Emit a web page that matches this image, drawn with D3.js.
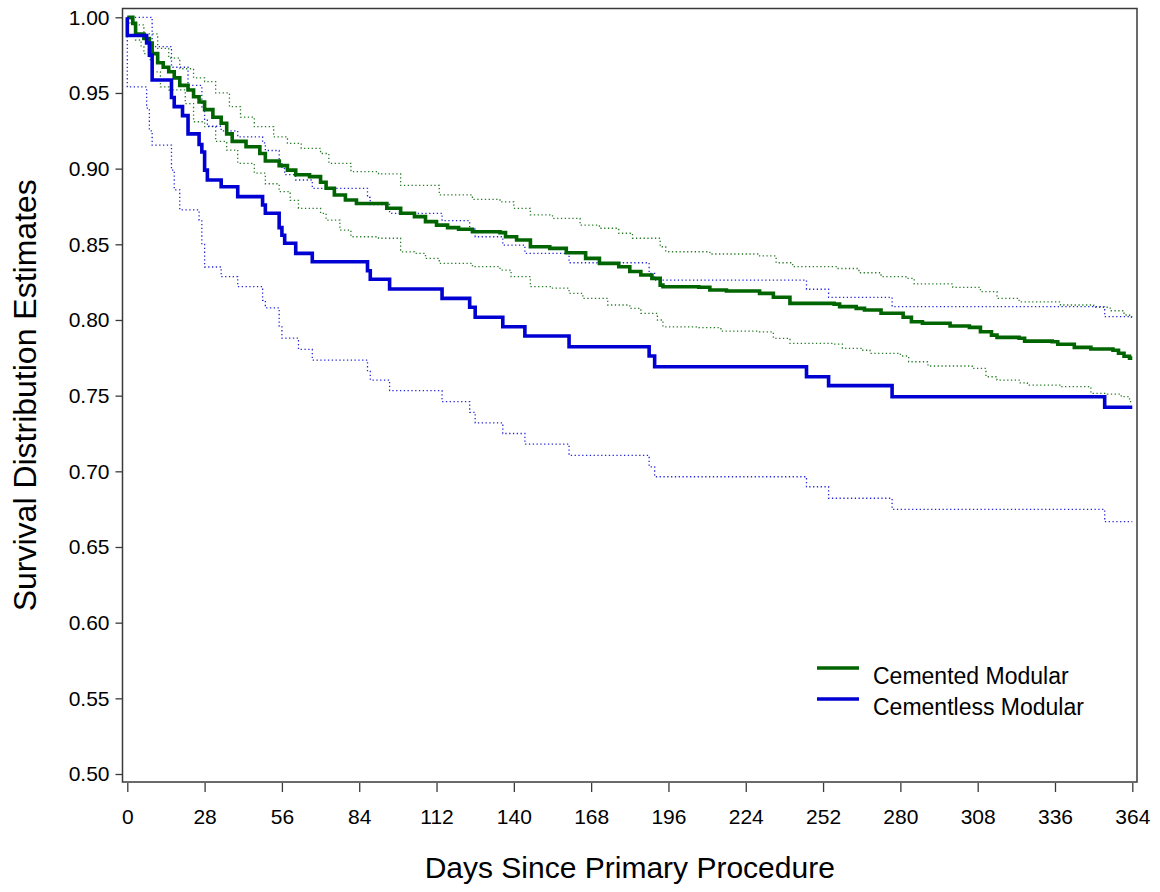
<!DOCTYPE html>
<html>
<head>
<meta charset="utf-8">
<script src="https://cdn.jsdelivr.net/npm/d3@7"></script>
<style>
  body { margin: 0; background: #fff; }
  text { font-family: "Liberation Sans", Arial, Helvetica, sans-serif; }
</style>
</head>
<body>
<div id="container"></div>
<script>
/* DATA: [day, survival] steps */
const lastDay = 364;
const xTicks = [0, 28, 56, 84, 112, 140, 168, 196, 224, 252, 280, 308, 336, 364];
const yTicks = [0.50, 0.55, 0.60, 0.65, 0.70, 0.75, 0.80, 0.85, 0.90, 0.95, 1.00];
const groups = ["Cemented Modular", "Cementless Modular"];

const cementedSurv = [[0,1],[2,0.996],[3,0.989],[6,0.986],[8,0.983],[9,0.976],[11,0.970],[13,0.967],[15,0.964],[17,0.960],
  [19,0.955],[22,0.952],[24,0.9475],[26,0.944],[28,0.939],[31,0.934],[34,0.930],[36,0.923],[38,0.918],[43,0.9145],
  [48,0.910],[50,0.905],[55,0.902],[58,0.899],[61,0.896],[66,0.8947],[70,0.891],[72,0.887],[75,0.8826],[79,0.8793],
  [83,0.877],[94,0.8738],[99,0.8705],[104,0.8683],[108,0.865],[112,0.8627],[116,0.861],[120,0.860],[125,0.8583],
  [135,0.8577],[137,0.855],[141,0.8528],[146,0.8484],[153,0.8473],[159,0.8444],[166,0.8407],[171,0.8374],[178,0.8352],
  [182,0.832],[186,0.8297],[190,0.8275],[193,0.823],[194,0.822],[207,0.8216],[211,0.8198],[217,0.8191],[229,0.8176],
  [234,0.815],[240,0.811],[256,0.8105],[258,0.8088],[264,0.8077],[267,0.8066],[273,0.8044],[281,0.8018],[284,0.7988],
  [288,0.7978],[298,0.796],[305,0.7951],[309,0.7922],[313,0.790],[315,0.7885],[323,0.7879],[325,0.786],[335,0.7856],
  [337,0.784],[343,0.7819],[349,0.7808],[357,0.780],[359,0.778],[361,0.776],[363,0.7748]];

const cementedUpper = [[0,1],[2,0.995],[6,0.989],[11,0.9795],[15,0.973],[19,0.966],[24,0.960],[28,0.9575],[32,0.950],
  [37,0.941],[41,0.934],[46,0.9277],[53,0.921],[58,0.9167],[63,0.9134],[70,0.910],[73,0.9035],[81,0.898],[91,0.8965],
  [99,0.889],[113,0.8826],[125,0.8797],[135,0.878],[140,0.8738],[146,0.8694],[154,0.8672],[164,0.8627],[171,0.8606],
  [178,0.8573],[183,0.854],[193,0.8484],[195,0.8451],[211,0.8436],[229,0.8423],[235,0.8378],[241,0.8352],[257,0.834],
  [265,0.8312],[273,0.8286],[282,0.8275],[285,0.8238],[299,0.8216],[309,0.8187],[315,0.8143],[323,0.812],[338,0.8099],
  [350,0.8084],[356,0.8061],[361,0.8033],[363,0.8018]];

const cementedLower = [[0,1],[1,0.996],[3,0.985],[5,0.9806],[6,0.976],[8,0.972],[9,0.964],[12,0.954],[15,0.952],[21,0.943],
  [24,0.931],[28,0.9277],[32,0.918],[36,0.9123],[40,0.9035],[46,0.897],[50,0.890],[55,0.8848],[59,0.879],[62,0.8738],
  [70,0.8705],[72,0.866],[77,0.8594],[81,0.855],[91,0.854],[99,0.845],[104,0.844],[108,0.8407],[113,0.8374],[125,0.8352],
  [135,0.833],[139,0.8286],[146,0.822],[154,0.821],[160,0.8176],[165,0.8143],[174,0.8099],[182,0.8077],[186,0.8044],
  [192,0.800],[194,0.7955],[207,0.7949],[215,0.7927],[229,0.7922],[234,0.7879],[240,0.7846],[256,0.7841],[259,0.7813],
  [266,0.780],[269,0.778],[280,0.7762],[283,0.7724],[290,0.7696],[306,0.768],[311,0.7625],[315,0.7603],[323,0.7585],
  [326,0.757],[338,0.7559],[349,0.7515],[355,0.751],[360,0.7493],[363,0.746]];

const cementlessSurv = [[0,1],[0,0.988],[7,0.983],[8,0.975],[9,0.9586],[16,0.947],[17,0.941],[20,0.935],[22,0.923],
  [26,0.916],[27,0.911],[28,0.899],[29,0.8925],[34,0.888],[40,0.8815],[49,0.876],[50,0.8705],[55,0.861],[56,0.856],
  [57,0.8507],[61,0.844],[67,0.8385],[87,0.8325],[88,0.8269],[95,0.8205],[114,0.8143],[124,0.8084],[126,0.8018],
  [136,0.7955],[144,0.7894],[160,0.7823],[189,0.7762],[191,0.7691],[246,0.7625],[254,0.7566],[277,0.7493],[354,0.7423]];

const cementlessUpper = [[0,1],[9,0.9806],[16,0.967],[22,0.955],[27,0.940],[28,0.932],[29,0.928],[34,0.925],[40,0.921],
  [49,0.917],[50,0.912],[55,0.905],[56,0.900],[57,0.896],[61,0.8925],[67,0.887],[87,0.881],[88,0.8763],[95,0.8705],
  [114,0.8656],[124,0.860],[126,0.855],[136,0.8495],[144,0.844],[160,0.8378],[189,0.8308],[191,0.8264],[246,0.8203],
  [254,0.815],[277,0.8088],[354,0.8022]];

const cementlessLower = [[0,1],[0,0.954],[7,0.940],[8,0.925],[9,0.9156],[16,0.899],[17,0.886],[19,0.8727],[26,0.866],
  [27,0.850],[28,0.835],[34,0.8286],[40,0.822],[49,0.813],[50,0.808],[55,0.796],[56,0.788],[62,0.7806],[67,0.7735],
  [87,0.766],[88,0.7603],[95,0.7533],[114,0.746],[124,0.739],[126,0.732],[136,0.725],[144,0.718],[160,0.7105],
  [189,0.703],[191,0.6964],[246,0.6898],[254,0.6822],[277,0.6749],[354,0.6667]];

/* CONSTANTS */
const width = 1160, height = 892;
const frame = { left: 122.5, top: 8.5, right: 1137, bottom: 782 };
const green = "#006400", blue = "#0000d2";

const svg = d3.select("#container")
  .append("svg")
  .attr("width", width)
  .attr("height", height);

const x = d3.scaleLinear().domain([0, lastDay]).range([127.3, 1132.3]);
const y = d3.scaleLinear().domain([0.5, 1]).range([774, 17.3]);

// step line, carried on to the last day
const line = d3.line()
  .x(d => x(d[0]))
  .y(d => y(d[1]))
  .curve(d3.curveStepAfter);
const extend = s => s.concat([[lastDay, s[s.length - 1][1]]]);

const series = [
  { data: cementedLower, color: green, dotted: true },
  { data: cementedUpper, color: green, dotted: true },
  { data: cementlessLower, color: blue, dotted: true },
  { data: cementlessUpper, color: blue, dotted: true },
  { data: cementedSurv, color: green, dotted: false },
  { data: cementlessSurv, color: blue, dotted: false }
];

svg.append("g")
  .selectAll("path")
  .data(series)
  .join("path")
  .attr("d", d => line(extend(d.data)))
  .attr("fill", "none")
  .attr("stroke", d => d.color)
  .attr("stroke-width", d => d.dotted ? 1.3 : 3.6)
  .attr("stroke-dasharray", d => d.dotted ? "1.3,2.5" : null)
  .attr("opacity", d => d.dotted ? 0.85 : 1);

// FRAME
svg.append("rect")
  .attr("x", frame.left)
  .attr("y", frame.top)
  .attr("width", frame.right - frame.left)
  .attr("height", frame.bottom - frame.top)
  .attr("fill", "none")
  .attr("stroke", "#3a3a3a")
  .attr("stroke-width", 1.5);

// AXES
const yAxis = svg.append("g")
  .attr("transform", `translate(${frame.left},0)`)
  .call(d3.axisLeft(y).tickValues(yTicks).tickFormat(d3.format(".2f")).tickSize(7).tickPadding(6));

const xAxis = svg.append("g")
  .attr("transform", `translate(0,${frame.bottom + 1})`)
  .call(d3.axisBottom(x).tickValues(xTicks).tickSize(9).tickPadding(17));

[yAxis, xAxis].forEach(g => {
  g.select(".domain").remove();
  g.selectAll(".tick line").attr("stroke", "#3a3a3a").attr("stroke-width", 1.3);
  g.selectAll(".tick text")
    .attr("fill", "#000")
    .style("font-size", "21px")
    .style("font-family", "'Liberation Sans', Arial, sans-serif");
});

// AXIS TITLES
svg.append("text")
  .attr("x", (frame.left + frame.right) / 2)
  .attr("y", 878)
  .attr("text-anchor", "middle")
  .style("font-size", "30px")
  .text("Days Since Primary Procedure");

svg.append("text")
  .attr("transform", `translate(36,${(frame.top + frame.bottom) / 2}) rotate(-90)`)
  .attr("text-anchor", "middle")
  .style("font-size", "32px")
  .text("Survival Distribution Estimates");

// LEGEND
const legend = svg.append("g")
  .selectAll("g")
  .data(groups)
  .join("g")
  .attr("transform", (d, i) => `translate(817,${668 + i * 31})`);

legend.append("line")
  .attr("x1", 0).attr("x2", 42)
  .attr("stroke", (d, i) => i === 0 ? green : blue)
  .attr("stroke-width", 3.5);

legend.append("text")
  .attr("x", 56)
  .attr("y", 16)
  .style("font-size", "23px")
  .text(d => d);
</script>
</body>
</html>
